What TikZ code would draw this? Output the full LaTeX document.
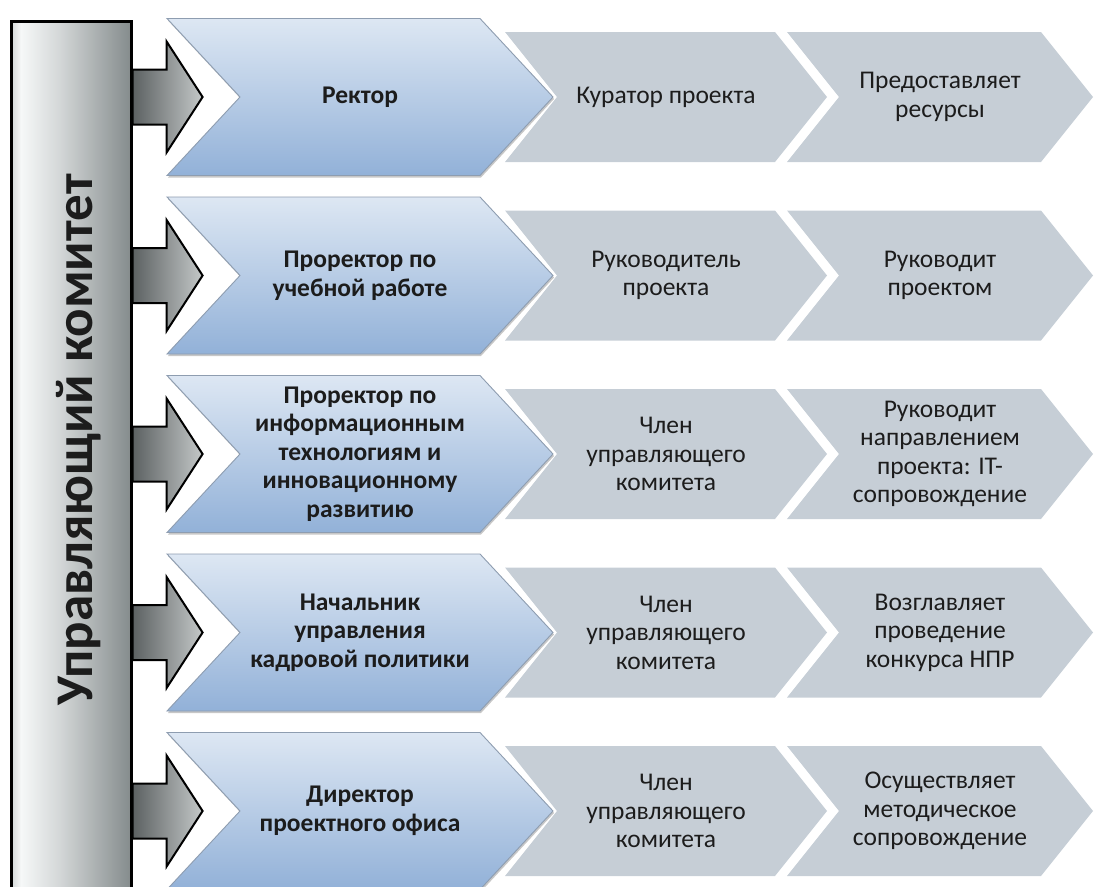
\documentclass[tikz,border=0pt]{standalone}
\usepackage{fontspec}
\setmainfont{Carlito}
\usetikzlibrary{calc}

\definecolor{chevtop}{HTML}{DDE7F3}
\definecolor{chevbot}{HTML}{92B1D8}
\definecolor{chevedge}{HTML}{8E9DB0}
\definecolor{stepgray}{HTML}{C6CED6}
\definecolor{barlight}{HTML}{F6F8F8}
\definecolor{barmid}{HTML}{D4D9D9}
\definecolor{bardark}{HTML}{848B8C}
\definecolor{arrdark}{HTML}{5C6162}
\definecolor{arrlight}{HTML}{C4C8C8}
\definecolor{ink}{HTML}{1C1C1C}

% light band near the left edge of the committee bar, darker towards the right
\pgfdeclarehorizontalshading{barshade}{100bp}{%
  color(0bp)=(barmid); color(25bp)=(barmid); color(29bp)=(barlight);
  color(45bp)=(barlight!70!bardark); color(75bp)=(bardark); color(100bp)=(bardark)}

\tikzset{
  committee/.style={draw=black, line width=2.6pt, shading=barshade,
    minimum width=120, minimum height=880, anchor=north west, inner sep=0pt},
  committeetext/.style={rotate=90, anchor=base, text=ink,
    font={\bfseries\fontsize{53}{60}\selectfont}},
  bluestep/.style={draw=chevedge, line width=0.9pt, top color=chevtop, bottom color=chevbot},
  blueshadow/.style={fill=black, opacity=0.22},
  graystep/.style={fill=stepgray},
  bluetext/.style={align=center, text=ink, inner sep=0pt,
    font={\bfseries\fontsize{25.5}{28.5}\selectfont}},
  graytext/.style={align=center, text=ink, inner sep=0pt,
    font={\fontsize{25.5}{28.5}\selectfont}},
  blockarrow/.style={draw=black, line width=2pt, line join=miter,
    left color=arrdark, right color=arrlight}
}

\begin{document}
\begin{tikzpicture}[x=1pt, y=-1pt]
\useasboundingbox (0,0) rectangle (1094,886);
\begin{scope}
\clip (0,0) rectangle (1094,886);

% vertical committee bar
\node[committee] (bar) at (10,20) {};
\node[committeetext] (bartext) at (92,440) {Управляющий комитет};

\foreach \i/\bt/\ga/\gb in {
  1/{Ректор}/{Куратор проекта}/{Предоставляет\\ресурсы},
  2/{Проректор по\\учебной работе}/{Руководитель\\проекта}/{Руководит\\проектом},
  3/{Проректор по\\информационным\\технологиям и\\инновационному\\развитию}/{Член\\управляющего\\комитета}/{Руководит\\направлением\\проекта: IT-\\сопровождение},
  4/{Начальник\\управления\\кадровой политики}/{Член\\управляющего\\комитета}/{Возглавляет\\проведение\\конкурса НПР},
  5/{Директор\\проектного офиса}/{Член\\управляющего\\комитета}/{Осуществляет\\методическое\\сопровождение}%
}{
  \pgfmathsetmacro\rowc{97+178.5*(\i-1)}
  % role chevron with soft shadow
  \fill[blueshadow] (168,\rowc-76.5) -- (481,\rowc-76.5) -- (554,\rowc+2) -- (481,\rowc+80.5)
    -- (168,\rowc+80.5) -- (241,\rowc+2) -- cycle;
  \draw[bluestep] (167,\rowc-78.5) -- (480,\rowc-78.5) -- (553,\rowc) -- (480,\rowc+78.5)
    -- (167,\rowc+78.5) -- (240,\rowc) -- cycle;
  % status and duty chevrons
  \fill[graystep] (505,\rowc-65) -- (775,\rowc-65) -- (827,\rowc) -- (775,\rowc+65)
    -- (505,\rowc+65) -- (557,\rowc) -- cycle;
  \fill[graystep] (787,\rowc-65) -- (1041,\rowc-65) -- (1093,\rowc) -- (1041,\rowc+65)
    -- (787,\rowc+65) -- (839,\rowc) -- cycle;
  \node[bluetext] (blue\i) at (360,\rowc) {\bt};
  \node[graytext] (grayA\i) at (666,\rowc) {\ga};
  \node[graytext] (grayB\i) at (940,\rowc) {\gb};
  % block arrow from the bar into the chevron notch
  \coordinate (s\i) at (bar.east |- blue\i.center);
  \draw[blockarrow] ($(s\i)+(0,-27.5)$) -- ++(34,0) -- ++(0,-28) -- ++(36,55.5)
    -- ++(-36,55.5) -- ++(0,-28) -- ++(-34,0) -- cycle;
}
\end{scope}
\end{tikzpicture}
\end{document}
